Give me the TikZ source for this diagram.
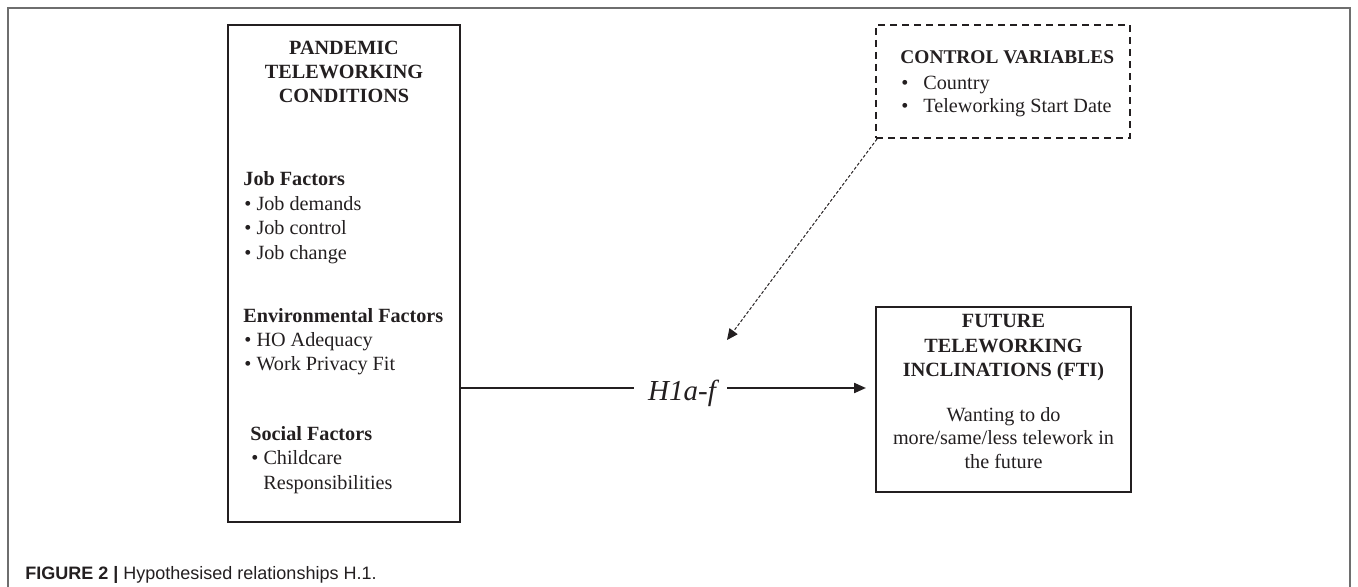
\documentclass[tikz,border=0pt]{standalone}
\usepackage{fontspec}
\setmainfont{Liberation Serif}
\newfontfamily\capfont{Liberation Sans}
\usetikzlibrary{arrows.meta}
\definecolor{ink}{HTML}{231F20}
\definecolor{framegray}{HTML}{6E6E6E}
\begin{document}
\begin{tikzpicture}[x=0.5pt,y=-0.5pt,
  box/.style={draw=ink, line width=1pt, inner sep=0pt, rectangle},
  txt/.style={inner sep=0pt, text=ink, font=\fontsize{10.1pt}{12pt}\selectfont},
  hd/.style={inner sep=0pt, text=ink, font=\fontsize{10.1pt}{12pt}\selectfont\bfseries},
  conn/.style={draw=ink, line width=1.1pt},
  dotconn/.style={draw=ink, line width=0.5pt, dash pattern=on 1.5pt off 1pt}]
\useasboundingbox (0,0) rectangle (1358,587);
% outer frame
\draw[framegray, line width=1pt] (8,587) -- (8,8) -- (1350,8) -- (1350,587);

% boxes
\node[box, minimum width=116pt, minimum height=248.5pt] (lb) at (344,273.5) {};
\node[box, minimum width=127.5pt, minimum height=92.5pt] (rb) at (1003.5,399.5) {};
\node[box, dash pattern=on 3.5pt off 2.5pt, minimum width=127pt, minimum height=56.5pt] (cv) at (1003,81.5) {};

% left box text
\node[hd, anchor=base] (l1) at (344,55) {PANDEMIC};
\node[hd, anchor=base] (l2) at (344,79) {TELEWORKING};
\node[hd, anchor=base] (l3) at (344,103) {CONDITIONS};
\node[hd, anchor=base west] (j0) at (243,186) {Job Factors};
\node[txt, anchor=base west] (j1) at (244,210.5) {• Job demands};
\node[txt, anchor=base west] (j2) at (244,235) {• Job control};
\node[txt, anchor=base west] (j3) at (244,259.5) {• Job change};
\node[hd, anchor=base west] (e0) at (243,322) {Environmental Factors};
\node[txt, anchor=base west] (e1) at (244,346.5) {• HO Adequacy};
\node[txt, anchor=base west] (e2) at (244,371) {• Work Privacy Fit};
\node[hd, anchor=base west] (s0) at (250,440) {Social Factors};
\node[txt, anchor=base west] (s1) at (251,464.5) {• Childcare};
\node[txt, anchor=base west] (s2) at (263,489) {Responsibilities};

% control variables text
\node[hd, anchor=base west, font=\fontsize{9.7pt}{12pt}\selectfont\bfseries] (c0) at (900,64) {CONTROL VARIABLES};
\node[txt, anchor=base west] (c1b) at (901,89.5) {•};
\node[txt, anchor=base west] (c1) at (923,89.5) {Country};
\node[txt, anchor=base west] (c2b) at (901,113) {•};
\node[txt, anchor=base west] (c2) at (923,113) {Teleworking Start Date};

% right box text
\node[hd, anchor=base] (r1) at (1003.5,328) {FUTURE};
\node[hd, anchor=base] (r2) at (1003.5,352) {TELEWORKING};
\node[hd, anchor=base] (r3) at (1003.5,376) {INCLINATIONS (FTI)};
\node[txt, anchor=base] (r4) at (1003.5,421) {Wanting to do};
\node[txt, anchor=base] (r5) at (1003.5,444.5) {more/same/less telework in};
\node[txt, anchor=base] (r6) at (1003.5,468) {the future};

% hypothesis label and connectors
\node[inner sep=0pt, text=ink, font=\fontsize{14.5pt}{16pt}\selectfont\itshape, anchor=base] (h) at (682,400) {H1a-f};
\coordinate (mid) at (682,388);
\coordinate (tip) at (727,340);
\draw[conn] (lb.east |- mid) -- ([xshift=-7pt]h.west |- mid);
\draw[conn, -{Triangle[length=6pt,width=5pt]}, shorten >=4.5pt] ([xshift=5.5pt]h.east |- mid) -- (rb.west |- mid);
\draw[dotconn, -{Triangle[length=5.5pt,width=5pt]}] ([xshift=1pt]cv.south west) -- (tip);

% caption
\node[inner sep=0pt, anchor=base west, text=ink, font=\capfont\fontsize{9pt}{11pt}\selectfont] (cap) at (25,579.5) {\textbf{FIGURE 2 |} Hypothesised relationships H.1.};
\end{tikzpicture}
\end{document}
